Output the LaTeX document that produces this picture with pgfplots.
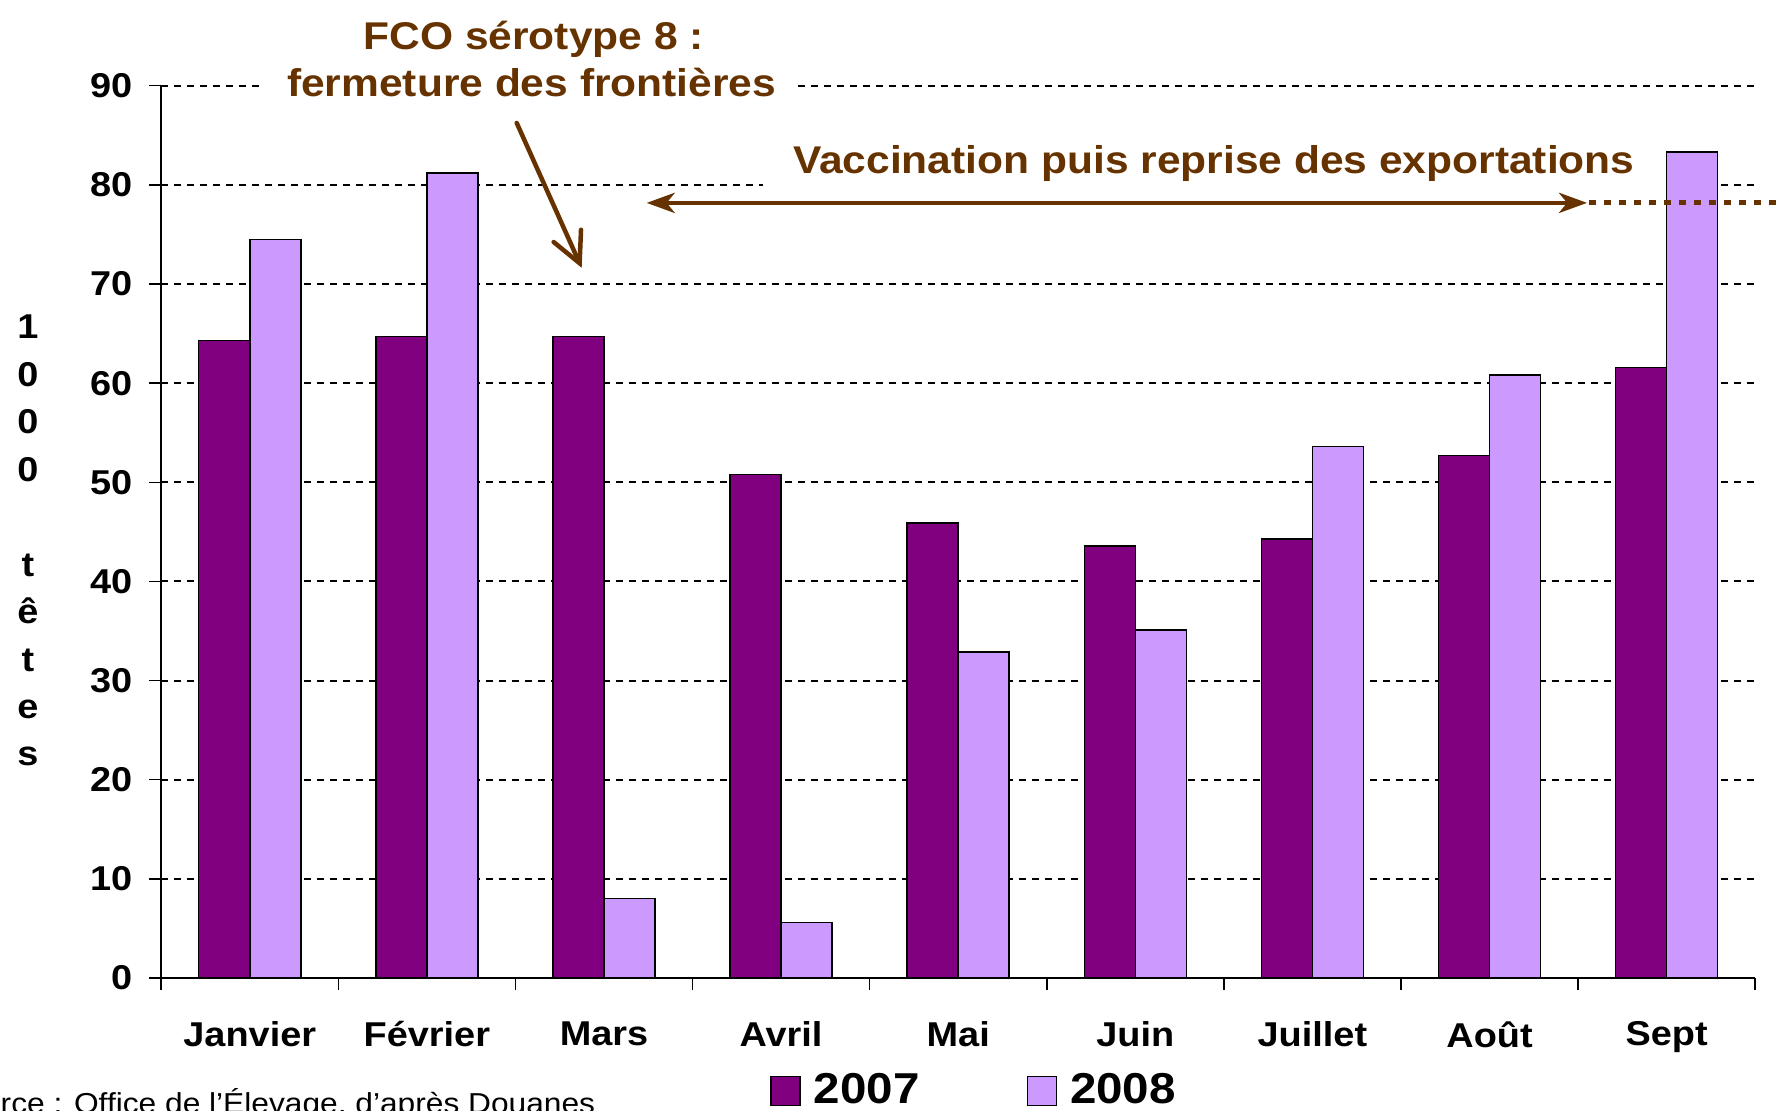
\documentclass[border=0pt]{standalone}
\usepackage{fontspec}
\setmainfont{Liberation Sans}[FakeStretch=1.1]
\usepackage{pgfplots}
\pgfplotsset{compat=1.18}
\usetikzlibrary{arrows.meta}
\definecolor{cA}{HTML}{800080}
\definecolor{cB}{HTML}{CC99FF}
\definecolor{brn}{HTML}{663300}
\newlength\souw
\begin{document}%
\settowidth\souw{\fontsize{8.2}{10}\selectfont Sou}%
\begin{tikzpicture}
\begin{axis}[
  at={(1.612cm,1.32cm)}, anchor=south west,
  scale only axis, width=15.94cm, height=8.923cm,
  xmin=-0.5, xmax=8.5, ymin=0, ymax=90,
  ybar=0pt, bar width=0.288,
  clip=false,
  axis x line*=bottom, axis y line*=left,
  axis line style={-, line width=0.02cm, black},
  ytick={0,10,...,90},
  xtick={-0.5,0.5,...,8.5}, xticklabel=\empty,
  extra x ticks={0,1,2,3,4,5,6,7,8},
  extra x tick labels={Janvier,Février,Mars,Avril,Mai,Juin,Juillet,Août,Sept},
  extra x tick style={tick style={draw=none}, xticklabel style={yshift=-0.19cm}},
  tick align=outside, major tick length=0.12cm,
  tick style={black, line width=0.015cm},
  ymajorgrids,
  major grid style={black, line width=0.02cm, dash pattern=on 0.07cm off 0.06cm},
  tick label style={font=\bfseries\fontsize{9.8}{12}\selectfont},
  /pgf/number format/assume math mode=true,
  yticklabel style={xshift=-0.045cm},
  legend style={at={(0.5115,-0.1268)}, anchor=center, draw=none, fill=none,
    font=\bfseries\fontsize{12.3}{15}\selectfont,
    /tikz/every odd column/.append style={column sep=0.06cm},
    /tikz/every even column/.append style={column sep=1.0cm}},
  legend columns=2,
  mylegend/.style={legend image code/.code={\draw[##1, line width=0.015cm] (0cm,-0.145cm) rectangle (0.29cm,0.145cm);}},
]
\fill[white] (axis cs:2.90,78.8) rectangle (axis cs:8,81.2);
\addplot[fill=cA, draw=black, line width=0.015cm, mylegend] coordinates {
  (0,64.3) (1,64.7) (2,64.7) (3,50.8) (4,45.9) (5,43.6) (6,44.3) (7,52.7) (8,61.6)};
\addplot[fill=cB, draw=black, line width=0.015cm, mylegend] coordinates {
  (0,74.5) (1,81.2) (2,8.0) (3,5.6) (4,32.9) (5,35.1) (6,53.6) (7,60.8) (8,83.3)};
\legend{2007,2008}
\end{axis}
\begin{scope}[x=0.01cm, y=-0.01cm, yshift=11.10cm]
  \node[anchor=base, text=brn, font=\bfseries\fontsize{11}{13}\selectfont, inner sep=0] at (534,50) {FCO sérotype 8 :};
  \node[anchor=base, text=brn, fill=white, font=\bfseries\fontsize{11}{13}\selectfont, inner xsep=0.22cm, inner ysep=0.05cm] at (532,96.7) {fermeture des frontières};
  \node[anchor=base, text=brn, font=\bfseries\fontsize{11}{13}\selectfont, inner sep=0] at (1214.5,173.3) {Vaccination puis reprise des exportations};
  \draw[brn, line width=0.045cm, line cap=round, -{Straight Barb[length=0.3cm, width=0.3cm, line cap=round]}] (517,123) -- (582,268);
  \draw[brn, line width=0.047cm, {Stealth[length=0.28cm, width=0.2cm, inset=0.08cm]}-{Stealth[length=0.28cm, width=0.2cm, inset=0.08cm]}] (647,203) -- (1588,203);
  \draw[brn, line width=0.05cm, dash pattern=on 0.07cm off 0.08cm] (1590,203) -- (1790,203);
  \foreach \c/\yy in {1/339,0/386.5,0/434,0/481.5,t/576.5,ê/624,t/671.5,e/719,s/766}
    \node[anchor=base, inner sep=0, font=\bfseries\fontsize{9.8}{12}\selectfont] at (28,\yy) {\c};
  \node[anchor=base west, inner sep=0, font=\fontsize{8.2}{10}\selectfont] at ([xshift=-\souw]0,1114) {Source : Office de l'Élevage, d'après Douanes};
\end{scope}
\pgfresetboundingbox
\path[use as bounding box] (0,0) rectangle (17.82cm,11.10cm);
\end{tikzpicture}%
\end{document}
